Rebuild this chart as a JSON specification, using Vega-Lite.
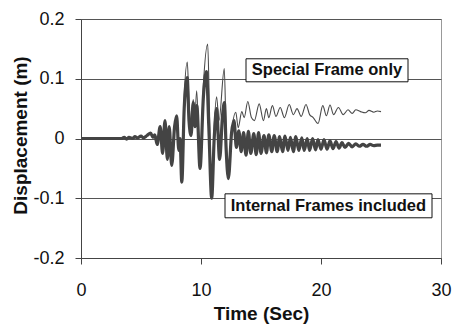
{
  "$schema": "https://vega.github.io/schema/vega-lite/v6.json",
  "width": 360,
  "height": 239,
  "autosize": {"type": "none"},
  "padding": {"left": 81, "top": 19, "right": 12, "bottom": 66},
  "background": "white",
  "config": {
    "font": "Liberation Sans",
    "view": {"stroke": "#999", "strokeWidth": 1}
  },
  "datasets": {
    "special": [
      {"t": 0, "d": 0}, {"t": 3.4, "d": 0}, {"t": 3.6, "d": 0.002}, {"t": 3.8, "d": -0.001}, {"t": 4.0, "d": 0.002},
      {"t": 4.3, "d": 0.0}, {"t": 4.5, "d": 0.003}, {"t": 4.7, "d": 0.001}, {"t": 5.0, "d": 0.004}, {"t": 5.2, "d": 0.001},
      {"t": 5.5, "d": 0.005}, {"t": 5.8, "d": 0.009}, {"t": 6.0, "d": 0.002}, {"t": 6.15, "d": 0.006}, {"t": 6.35, "d": -0.01},
      {"t": 6.6, "d": 0.02}, {"t": 6.8, "d": -0.025}, {"t": 7.0, "d": 0.03}, {"t": 7.2, "d": -0.035}, {"t": 7.35, "d": 0.02},
      {"t": 7.56, "d": -0.045}, {"t": 7.8, "d": 0.02}, {"t": 7.97, "d": 0.038}, {"t": 8.15, "d": -0.02}, {"t": 8.25, "d": 0.0},
      {"t": 8.4, "d": -0.07}, {"t": 8.6, "d": 0.07}, {"t": 8.86, "d": 0.128}, {"t": 9.0, "d": 0.06}, {"t": 9.17, "d": 0.03},
      {"t": 9.35, "d": 0.065}, {"t": 9.5, "d": 0.04}, {"t": 9.64, "d": 0.08}, {"t": 9.92, "d": -0.042}, {"t": 10.2, "d": 0.09},
      {"t": 10.56, "d": 0.158}, {"t": 10.7, "d": 0.05}, {"t": 10.89, "d": -0.095}, {"t": 11.1, "d": 0.02}, {"t": 11.3, "d": 0.07},
      {"t": 11.5, "d": 0.03}, {"t": 11.94, "d": 0.117}, {"t": 12.1, "d": 0.0}, {"t": 12.28, "d": -0.063}, {"t": 12.6, "d": 0.02},
      {"t": 12.9, "d": 0.044}, {"t": 13.1, "d": 0.018}, {"t": 13.4, "d": 0.045}, {"t": 13.6, "d": 0.035}, {"t": 13.9, "d": 0.062},
      {"t": 14.2, "d": 0.035}, {"t": 14.45, "d": 0.03}, {"t": 14.85, "d": 0.058}, {"t": 15.2, "d": 0.03}, {"t": 15.45, "d": 0.05},
      {"t": 15.65, "d": 0.035}, {"t": 15.95, "d": 0.055}, {"t": 16.25, "d": 0.037}, {"t": 16.6, "d": 0.052}, {"t": 16.95, "d": 0.035},
      {"t": 17.35, "d": 0.057}, {"t": 17.7, "d": 0.04}, {"t": 18.0, "d": 0.05}, {"t": 18.35, "d": 0.037}, {"t": 18.75, "d": 0.057},
      {"t": 19.05, "d": 0.04}, {"t": 19.35, "d": 0.035}, {"t": 19.75, "d": 0.025}, {"t": 20.15, "d": 0.055}, {"t": 20.45, "d": 0.038},
      {"t": 20.75, "d": 0.056}, {"t": 21.05, "d": 0.04}, {"t": 21.45, "d": 0.052}, {"t": 21.85, "d": 0.04}, {"t": 22.25, "d": 0.048},
      {"t": 22.6, "d": 0.042}, {"t": 22.9, "d": 0.048}, {"t": 23.3, "d": 0.045}, {"t": 23.7, "d": 0.043}, {"t": 24.0, "d": 0.047},
      {"t": 24.4, "d": 0.044}, {"t": 24.7, "d": 0.046}, {"t": 25.0, "d": 0.045}
    ],
    "internal": [
      {"t": 0, "d": 0}, {"t": 3.4, "d": 0}, {"t": 3.6, "d": 0.002}, {"t": 3.8, "d": -0.001}, {"t": 4.0, "d": 0.002},
      {"t": 4.3, "d": 0.0}, {"t": 4.5, "d": 0.003}, {"t": 4.7, "d": 0.001}, {"t": 5.0, "d": 0.004}, {"t": 5.2, "d": 0.001},
      {"t": 5.5, "d": 0.005}, {"t": 5.8, "d": 0.009}, {"t": 6.0, "d": 0.002}, {"t": 6.15, "d": 0.006}, {"t": 6.35, "d": -0.01},
      {"t": 6.6, "d": 0.02}, {"t": 6.8, "d": -0.025}, {"t": 7.0, "d": 0.03}, {"t": 7.2, "d": -0.035}, {"t": 7.35, "d": 0.02},
      {"t": 7.56, "d": -0.045}, {"t": 7.8, "d": 0.02}, {"t": 7.97, "d": 0.038}, {"t": 8.15, "d": -0.02}, {"t": 8.25, "d": 0.0},
      {"t": 8.4, "d": -0.073}, {"t": 8.6, "d": 0.05}, {"t": 8.85, "d": 0.102}, {"t": 9.0, "d": 0.03}, {"t": 9.17, "d": 0.005},
      {"t": 9.35, "d": 0.06}, {"t": 9.5, "d": 0.02}, {"t": 9.65, "d": 0.055}, {"t": 9.92, "d": -0.05}, {"t": 10.2, "d": 0.07},
      {"t": 10.45, "d": 0.112}, {"t": 10.65, "d": 0.02}, {"t": 10.89, "d": -0.1}, {"t": 11.1, "d": 0.0}, {"t": 11.3, "d": 0.05},
      {"t": 11.55, "d": -0.035}, {"t": 11.8, "d": 0.04}, {"t": 11.95, "d": 0.06}, {"t": 12.1, "d": -0.02}, {"t": 12.28, "d": -0.067},
      {"t": 12.55, "d": 0.01}, {"t": 12.75, "d": 0.03}, {"t": 12.95, "d": -0.015}, {"t": 13.15, "d": 0.013}, {"t": 13.35, "d": -0.022},
      {"t": 13.55, "d": 0.01}, {"t": 13.75, "d": -0.028}, {"t": 13.95, "d": 0.012}, {"t": 14.15, "d": -0.025}, {"t": 14.4, "d": 0.008},
      {"t": 14.6, "d": -0.027}, {"t": 14.8, "d": 0.01}, {"t": 15.0, "d": -0.025}, {"t": 15.25, "d": 0.005}, {"t": 15.45, "d": -0.024},
      {"t": 15.65, "d": 0.006}, {"t": 15.9, "d": -0.022}, {"t": 16.1, "d": 0.005}, {"t": 16.35, "d": -0.022}, {"t": 16.55, "d": 0.003},
      {"t": 16.8, "d": -0.022}, {"t": 17.0, "d": 0.004}, {"t": 17.25, "d": -0.02}, {"t": 17.45, "d": 0.002}, {"t": 17.7, "d": -0.022},
      {"t": 17.9, "d": 0.003}, {"t": 18.15, "d": -0.02}, {"t": 18.4, "d": 0.001}, {"t": 18.6, "d": -0.02}, {"t": 18.85, "d": 0.0},
      {"t": 19.05, "d": -0.02}, {"t": 19.3, "d": 0.0}, {"t": 19.55, "d": -0.019}, {"t": 19.75, "d": -0.002}, {"t": 20.0, "d": -0.018},
      {"t": 20.25, "d": -0.002}, {"t": 20.5, "d": -0.018}, {"t": 20.75, "d": -0.004}, {"t": 21.0, "d": -0.017}, {"t": 21.25, "d": -0.005},
      {"t": 21.5, "d": -0.016}, {"t": 21.75, "d": -0.007}, {"t": 22.0, "d": -0.015}, {"t": 22.3, "d": -0.008}, {"t": 22.6, "d": -0.014},
      {"t": 22.9, "d": -0.009}, {"t": 23.2, "d": -0.013}, {"t": 23.5, "d": -0.01}, {"t": 23.8, "d": -0.013}, {"t": 24.1, "d": -0.01},
      {"t": 24.4, "d": -0.012}, {"t": 24.7, "d": -0.011}, {"t": 25.0, "d": -0.011}
    ]
  },
  "layer": [
    {
      "data": {"name": "special"},
      "mark": {"type": "line", "color": "#4a4a4a", "strokeWidth": 1.1, "strokeJoin": "round", "interpolate": "monotone"},
      "encoding": {
        "x": {
          "field": "t", "type": "quantitative",
          "scale": {"domain": [0, 30], "nice": false},
          "axis": {
            "title": "Time (Sec)", "values": [0, 10, 20, 30], "grid": false, "labelFlush": false,
            "domainColor": "#444", "tickColor": "#444", "tickSize": 6,
            "labelFontSize": 18, "labelColor": "#111", "labelPadding": 17, "labelFont": "Liberation Sans",
            "titleFontSize": 19, "titleFont": "Liberation Sans", "titleFontWeight": "bold", "titleColor": "#111",
            "titleBaseline": "alphabetic", "titleY": 61, "titleX": 180
          }
        },
        "y": {
          "field": "d", "type": "quantitative",
          "scale": {"domain": [-0.2, 0.2], "nice": false},
          "axis": {
            "title": "Displacement (m)", "values": [-0.2, -0.1, 0, 0.1, 0.2], "labelFlush": false,
            "labelExpr": "datum.value == 0 ? '0' : (datum.value < 0 ? '-' + format(-datum.value, '.1f') : format(datum.value, '.1f'))",
            "grid": true, "gridColor": "#555", "gridOpacity": 1, "gridWidth": 1,
            "domainColor": "#444", "tickColor": "#444", "tickSize": 6,
            "labelFontSize": 18, "labelColor": "#111", "labelPadding": 11, "labelFont": "Liberation Sans",
            "titleFontSize": 19, "titleFont": "Liberation Sans", "titleFontWeight": "bold", "titleColor": "#111",
            "titleBaseline": "alphabetic", "titleAngle": -90, "titleX": -55, "titleY": 116
          }
        }
      }
    },
    {
      "data": {"name": "internal"},
      "mark": {"type": "line", "color": "#444", "strokeWidth": 3.2, "strokeJoin": "round", "interpolate": "monotone"},
      "encoding": {
        "x": {"field": "t", "type": "quantitative"},
        "y": {"field": "d", "type": "quantitative"}
      }
    },
    {
      "data": {"values": [{"label": "Special Frame only"}]},
      "mark": {"type": "rect", "fill": "white", "stroke": "#111", "strokeWidth": 1},
      "encoding": {
        "x": {"datum": 13.75, "type": "quantitative"}, "x2": {"datum": 27.25},
        "y": {"datum": 0.1334, "type": "quantitative"}, "y2": {"datum": 0.0949}
      }
    },
    {
      "data": {"values": [{"label": "Internal Frames included"}]},
      "mark": {"type": "rect", "fill": "white", "stroke": "#111", "strokeWidth": 1},
      "encoding": {
        "x": {"datum": 12.0, "type": "quantitative"}, "x2": {"datum": 29.25},
        "y": {"datum": -0.0926, "type": "quantitative"}, "y2": {"datum": -0.1327}
      }
    },
    {
      "data": {"values": [{"label": "Special Frame only"}]},
      "mark": {"type": "text", "font": "Liberation Sans", "fontWeight": "bold", "fontSize": 16.5, "color": "#111", "align": "center", "baseline": "middle"},
      "encoding": {
        "x": {"datum": 20.5, "type": "quantitative"},
        "y": {"datum": 0.114, "type": "quantitative"},
        "text": {"field": "label"}
      }
    },
    {
      "data": {"values": [{"label": "Internal Frames included"}]},
      "mark": {"type": "text", "font": "Liberation Sans", "fontWeight": "bold", "fontSize": 16.5, "color": "#111", "align": "center", "baseline": "middle"},
      "encoding": {
        "x": {"datum": 20.62, "type": "quantitative"},
        "y": {"datum": -0.1126, "type": "quantitative"},
        "text": {"field": "label"}
      }
    }
  ]
}
